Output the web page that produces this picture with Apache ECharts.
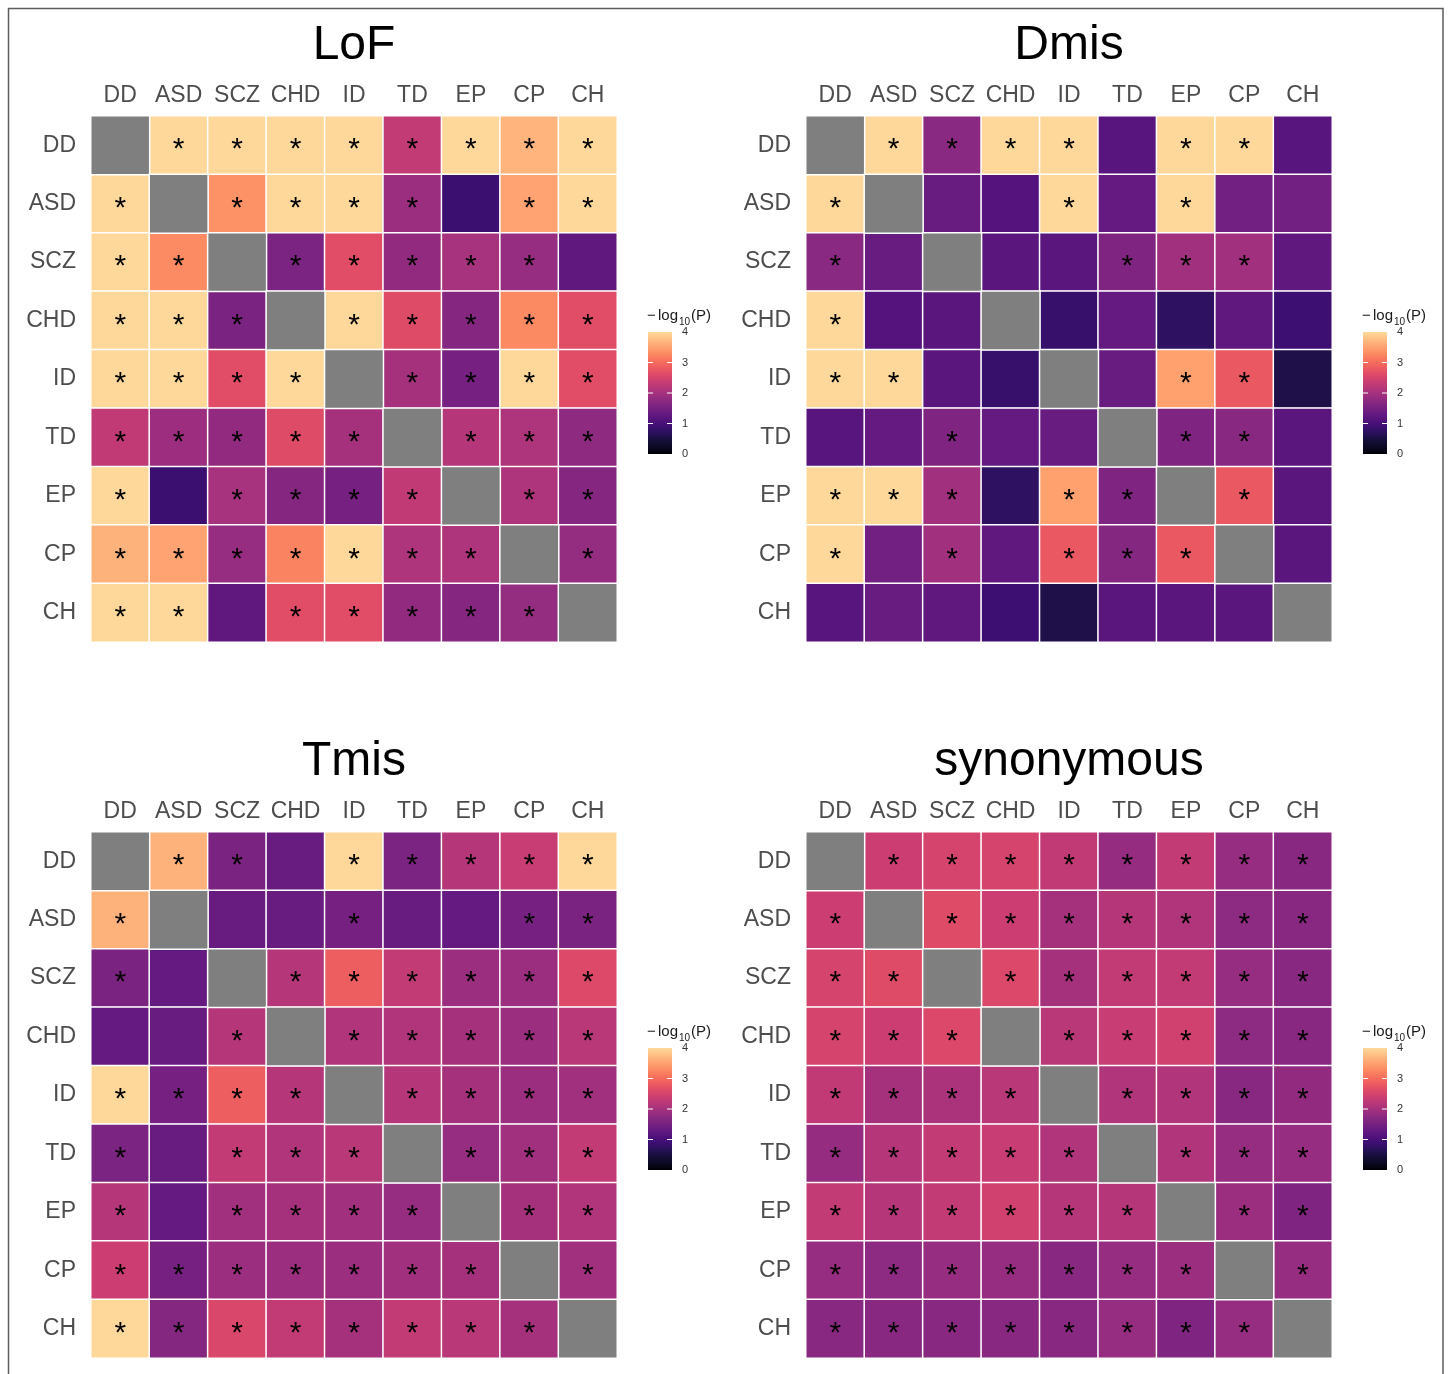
<!DOCTYPE html>
<html>
<head>
<meta charset="utf-8">
<script src="https://cdn.jsdelivr.net/npm/echarts@6/dist/echarts.min.js"></script>
<style>
  html, body { margin: 0; padding: 0; background: #fff; }
  #chart { width: 1448px; height: 1374px; }
</style>
</head>
<body>
<div id="chart"></div>
<script>
// Phenotypes, in the same order on both axes
const traits = ['DD', 'ASD', 'SCZ', 'CHD', 'ID', 'TD', 'EP', 'CP', 'CH'];

// -log10(P) per pair (row trait, column trait); the diagonal is empty
const lofValues = [
  [null, 4, 4, 4, 4, 2.3, 4, 3.67, 4],
  [4, null, 3.35, 4, 4, 1.9, 0.87, 3.52, 4],
  [4, 3.28, null, 1.57, 2.65, 1.8, 2.02, 1.85, 1.26],
  [4, 4, 1.55, null, 4, 2.62, 1.67, 3.27, 2.65],
  [4, 4, 2.65, 4, null, 2.0, 1.5, 4, 2.65],
  [2.28, 1.91, 1.8, 2.62, 2.0, null, 2.17, 2.08, 1.76],
  [4, 0.87, 2.02, 1.67, 1.5, 2.28, null, 2.08, 1.67],
  [3.65, 3.52, 1.85, 3.22, 4, 2.08, 2.08, null, 1.82],
  [4, 4, 1.26, 2.65, 2.65, 1.8, 1.67, 1.82, null]
];
const dmisValues = [
  [null, 4, 1.72, 4, 4, 1.17, 4, 4, 1.17],
  [4, null, 1.35, 1.13, 4, 1.3, 4, 1.46, 1.46],
  [1.72, 1.35, null, 1.2, 1.2, 1.6, 1.96, 1.96, 1.26],
  [4, 1.13, 1.2, null, 0.83, 1.3, 0.74, 1.26, 0.9],
  [4, 4, 1.2, 0.83, null, 1.35, 3.5, 2.8, 0.57],
  [1.17, 1.3, 1.6, 1.3, 1.35, null, 1.6, 1.7, 1.2],
  [4, 4, 1.96, 0.74, 3.5, 1.6, null, 2.8, 1.2],
  [4, 1.46, 1.96, 1.26, 2.8, 1.65, 2.8, null, 1.2],
  [1.17, 1.35, 1.26, 0.9, 0.57, 1.2, 1.2, 1.2, null]
];
const tmisValues = [
  [null, 3.65, 1.55, 1.35, 4, 1.57, 2.15, 2.35, 4],
  [3.65, null, 1.35, 1.35, 1.5, 1.35, 1.3, 1.5, 1.55],
  [1.55, 1.3, null, 2.15, 2.85, 2.3, 1.9, 1.9, 2.6],
  [1.3, 1.35, 2.15, null, 2.1, 2.1, 2.0, 1.9, 2.2],
  [4, 1.5, 2.85, 2.15, null, 2.15, 2.0, 1.9, 1.95],
  [1.57, 1.35, 2.3, 2.1, 2.2, null, 1.85, 1.95, 2.3],
  [2.15, 1.3, 1.95, 2.0, 1.95, 1.85, null, 2.0, 2.1],
  [2.4, 1.5, 1.9, 1.9, 1.9, 1.95, 2.0, null, 1.95],
  [4, 1.65, 2.55, 2.3, 2.0, 2.3, 2.2, 2.0, null]
];
const synValues = [
  [null, 2.4, 2.5, 2.5, 2.28, 1.83, 2.3, 1.85, 1.7],
  [2.4, null, 2.62, 2.4, 2.0, 2.15, 2.1, 1.75, 1.7],
  [2.5, 2.62, null, 2.58, 2.0, 2.3, 2.3, 1.85, 1.7],
  [2.5, 2.4, 2.58, null, 2.2, 2.35, 2.45, 1.75, 1.7],
  [2.28, 2.0, 2.05, 2.2, null, 2.1, 2.1, 1.7, 1.8],
  [1.83, 2.15, 2.3, 2.35, 2.1, null, 2.1, 1.85, 1.85],
  [2.3, 2.15, 2.3, 2.45, 2.15, 2.15, null, 1.9, 1.6],
  [1.85, 1.75, 1.85, 1.85, 1.7, 1.85, 1.9, null, 1.85],
  [1.7, 1.7, 1.7, 1.7, 1.7, 1.85, 1.6, 1.85, null]
];

// Significant pairs (1 = marked with an asterisk)
const lofSig = ['011111111', '101111011', '110111110', '111011111', '111101111',
                '111110111', '101111011', '111111101', '110111110'];
const dmisSig = ['011110110', '100010100', '100001110', '100000000', '110000110',
                 '001000110', '111011010', '101011100', '000000000'];
const tmisSig = ['011011111', '100010011', '100111111', '001011111', '111101111',
                 '101110111', '101111011', '111111101', '111111110'];
const synSig = ['011111111', '101111111', '110111111', '111011111', '111101111',
                '111110111', '111111011', '111111101', '111111110'];

const panels = [
  { title: 'LoF', values: lofValues, sig: lofSig, left: 91, top: 116 },
  { title: 'Dmis', values: dmisValues, sig: dmisSig, left: 806, top: 116 },
  { title: 'Tmis', values: tmisValues, sig: tmisSig, left: 91, top: 832 },
  { title: 'synonymous', values: synValues, sig: synSig, left: 806, top: 832 }
];

const SIZE = 526;
const FONT = '"Liberation Sans", Arial, Helvetica, sans-serif';
const VMAX = 4;

// magma palette anchors (t in 0..1 at 0.05 steps); the scale stops at t = 0.92
const magmaAnchors = ['#000004', '#0b0924', '#140e36', '#261157', '#3b0f70', '#51127c', '#641a80',
  '#782281', '#8c2981', '#a1307e', '#b73779', '#cb3e71', '#de4968', '#ec5b60', '#f7705c',
  '#fb8861', '#fe9f6d', '#feb77e', '#fecf92', '#fde6a8', '#fcfdbf'];
function hexToRgb(h) { return [1, 3, 5].map(i => parseInt(h.slice(i, i + 2), 16)); }
function magma(t) {
  const pos = Math.max(0, Math.min(1, t)) * (magmaAnchors.length - 1);
  const i = Math.min(Math.floor(pos), magmaAnchors.length - 2);
  const f = pos - i;
  const a = hexToRgb(magmaAnchors[i]), b = hexToRgb(magmaAnchors[i + 1]);
  const c = a.map((v, k) => Math.round(v + (b[k] - v) * f));
  return 'rgb(' + c.join(',') + ')';
}
const STEPS = 40;
const scaleColors = [];
for (let s = 0; s <= STEPS; s++) scaleColors.push(magma(s / STEPS * 0.92));

const grid = [], xAxis = [], yAxis = [], series = [], graphic = [];
const axisLabelStyle = { fontSize: 23, color: '#4d4d4d', fontFamily: FONT };

panels.forEach((p, i) => {
  grid.push({ left: p.left, top: p.top, width: SIZE, height: SIZE });
  xAxis.push({
    type: 'category', gridIndex: i, data: traits, position: 'top',
    axisLine: { show: false }, axisTick: { show: false }, splitLine: { show: false },
    axisLabel: Object.assign({ margin: 9, interval: 0 }, axisLabelStyle)
  });
  yAxis.push({
    type: 'category', gridIndex: i, data: traits, inverse: true,
    axisLine: { show: false }, axisTick: { show: false }, splitLine: { show: false },
    axisLabel: Object.assign({ margin: 15, interval: 0 }, axisLabelStyle)
  });

  const cells = [], diag = [];
  p.values.forEach((row, r) => row.forEach((v, c) => {
    if (v === null) diag.push([c, r, 0]);
    else cells.push({ value: [c, r, v], sig: p.sig[r][c] === '1' });
  }));

  series.push({
    name: p.title, type: 'heatmap', xAxisIndex: i, yAxisIndex: i, data: cells,
    itemStyle: { borderColor: '#fff', borderWidth: 1.5 },
    label: {
      show: true, formatter: d => (d.data.sig ? '*' : ''),
      fontSize: 30, color: '#000', fontFamily: FONT, offset: [0, 5]
    },
    emphasis: { disabled: true }
  });
  series.push({
    name: p.title + ' diagonal', type: 'heatmap', xAxisIndex: i, yAxisIndex: i, data: diag,
    itemStyle: { borderColor: '#fff', borderWidth: 1.5 },
    emphasis: { disabled: true }
  });

  // panel title
  graphic.push({
    type: 'text', silent: true,
    style: {
      text: p.title, x: p.left + SIZE / 2, y: p.top - 70,
      fill: '#000', font: '48px ' + FONT, align: 'center', verticalAlign: 'middle'
    }
  });

  // colour bar legend
  const bx = p.left + 557, by = p.top + 216, bw = 24, bh = 122;
  graphic.push({
    type: 'rect', silent: true,
    shape: { x: bx, y: by, width: bw, height: bh },
    style: {
      fill: {
        type: 'linear', x: 0, y: 1, x2: 0, y2: 0,
        colorStops: scaleColors.map((c, k) => ({ offset: k / STEPS, color: c }))
      }
    }
  });
  for (let v = 0; v <= VMAX; v++) {
    const ty = by + bh - v / VMAX * bh;
    if (v > 0 && v < VMAX) {
      graphic.push({ type: 'line', silent: true, shape: { x1: bx, y1: ty, x2: bx + 5, y2: ty }, style: { stroke: '#fff', lineWidth: 1 } });
      graphic.push({ type: 'line', silent: true, shape: { x1: bx + bw - 5, y1: ty, x2: bx + bw, y2: ty }, style: { stroke: '#fff', lineWidth: 1 } });
    }
    graphic.push({
      type: 'text', silent: true,
      style: { text: String(v), x: bx + bw + 10, y: ty, fill: '#333', font: '11px ' + FONT, align: 'left', verticalAlign: 'middle' }
    });
  }
  const legendTitle = [
    { text: '\u2212', x: bx - 1, y: by - 16, size: 15 },
    { text: 'log', x: bx + 10, y: by - 16, size: 15 },
    { text: '10', x: bx + 31, y: by - 10, size: 10 },
    { text: '(P)', x: bx + 43, y: by - 16, size: 15 }
  ];
  legendTitle.forEach(t => graphic.push({
    type: 'text', silent: true,
    style: { text: t.text, x: t.x, y: t.y, fill: '#1a1a1a', font: t.size + 'px ' + FONT, align: 'left', verticalAlign: 'middle' }
  }));
});

// outer frame
graphic.push({
  type: 'rect', silent: true, z: 100,
  shape: { x: 8.5, y: 8.5, width: 1434.5, height: 1400 },
  style: { fill: 'none', stroke: '#5c5c5c', lineWidth: 1.5 }
});

const chart = echarts.init(document.getElementById('chart'), null, { renderer: 'canvas' });
chart.setOption({
  animation: false,
  backgroundColor: '#fff',
  grid, xAxis, yAxis, series, graphic,
  visualMap: [
    {
      type: 'continuous', show: false, min: 0, max: VMAX, dimension: 2,
      seriesIndex: [0, 2, 4, 6], inRange: { color: scaleColors }
    },
    {
      type: 'continuous', show: false, min: 0, max: 1, dimension: 2,
      seriesIndex: [1, 3, 5, 7], inRange: { color: ['#7f7f7f', '#7f7f7f'] }
    }
  ]
});
</script>
</body>
</html>
